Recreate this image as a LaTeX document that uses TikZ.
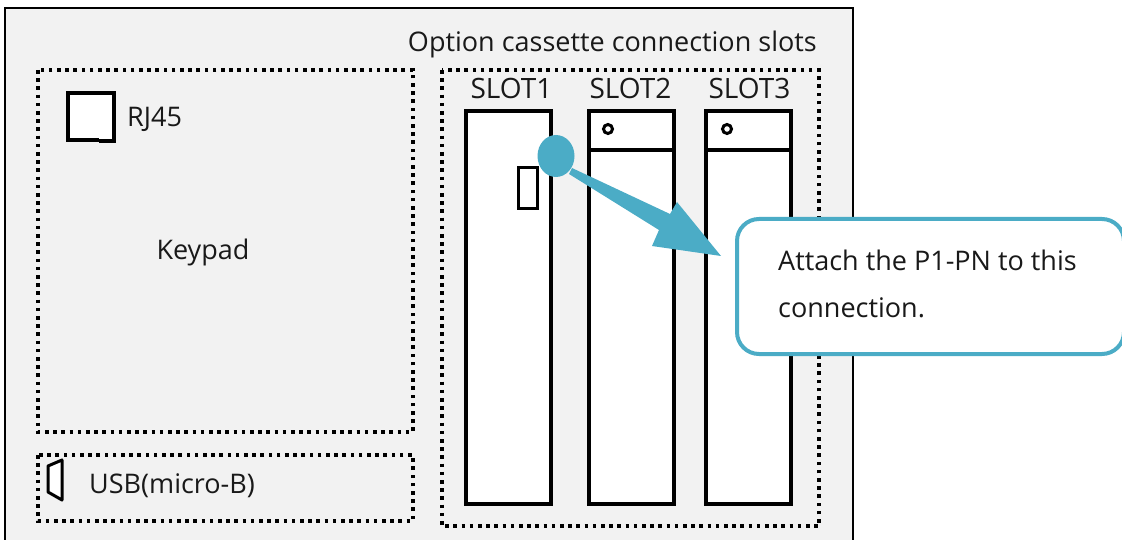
\documentclass[tikz,border=0pt]{standalone}
\usepackage{fontspec}
\usetikzlibrary{shapes.geometric}
\setmainfont{Open Sans}
\definecolor{panelgray}{HTML}{F2F2F2}
\definecolor{calloutblue}{HTML}{4BACC6}
\begin{document}
\begin{tikzpicture}[x=1pt,y=-1pt,
  lbl/.style={font=\fontsize{27}{32}\selectfont, inner sep=0pt, text=black!90},
  slotlbl/.style={lbl, font=\fontsize{28}{32}\selectfont},
  zone/.style={draw, line width=3.6pt, dash pattern=on 3.6pt off 4.6pt},
  slotbox/.style={draw, fill=white, line width=4pt},
  thinpart/.style={draw, fill=white, line width=3pt},
  calloutbox/.style={draw=calloutblue, fill=white, line width=4pt, rounded corners=22pt}
]
\useasboundingbox (0,0) rectangle (1122,540);
\clip (0,0) rectangle (1122,540);
% panel
\fill[panelgray] (5,8) rectangle (853,560);
\draw[line width=2pt] (5,560) -- (5,8) -- (853,8) -- (853,560);
% zones
\draw[zone] (38,70) rectangle (413,432);
\draw[zone] (38,455) rectangle (413,521);
\draw[zone] (442,70) rectangle (819,526);
% RJ45 port
\draw[thinpart, line width=3.5pt] (99,140) -- (68,140) -- (68,93) -- (114,93) -- (114,141) -- (99,141);
\node[lbl, anchor=base west] (rj) at (127,127) {RJ45};
\node[lbl, anchor=base] (keypad) at (203,260) {Keypad};
% USB port
\draw[thinpart, line join=round] (48,466) -- (62,460) -- (62,500) -- (48,492) -- cycle;
\node[lbl, anchor=base west] (usb) at (89,493) {USB(micro-B)};
% title
\node[lbl, anchor=base east] (title) at (817,52) {Option cassette connection slots};
% slots
\draw[slotbox] (466,111) rectangle (551,504);
\draw[slotbox] (589,111) rectangle (674,504);
\draw[slotbox] (706,111) rectangle (791,504);
\draw[line width=4pt] (589,150) -- (674,150);
\draw[line width=4pt] (706,150) -- (791,150);
\draw[thinpart] (608,129) circle (4.5);
\draw[thinpart] (727,129) circle (4.5);
\draw[thinpart] (518,168) rectangle (537,209);
\node[slotlbl, anchor=base] (s1) at (511.5,99) {SLOT1};
\node[slotlbl, anchor=base] (s2) at (630.5,99) {SLOT2};
\node[slotlbl, anchor=base] (s3) at (749.5,99) {SLOT3};
% pointer
\node[ellipse, fill=calloutblue, minimum width=37pt, minimum height=42pt, inner sep=0pt] (dot) at (556,156) {};
\fill[calloutblue] (572,168) -- (670,214) -- (677,202) -- (721,256) -- (652,246) -- (659,230) -- (569,174) -- cycle;
% callout
\node[calloutbox, anchor=north west, minimum width=387pt, minimum height=135pt] (callout) at (735,217) {};
\node[lbl, anchor=base west] (c1) at (778,270) {Attach the P1-PN to this};
\node[lbl, anchor=base west] (c2) at (778,317) {connection.};
\end{tikzpicture}
\end{document}
